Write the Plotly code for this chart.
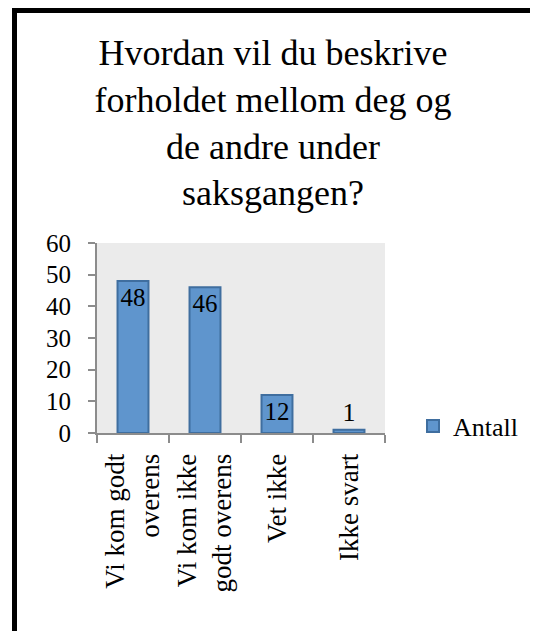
import plotly.graph_objects as go

# Data
categories = ["Vi kom godt<br>overens", "Vi kom ikke<br>godt overens", "Vet ikke", "Ikke svart"]
antall = [48, 46, 12, 1]
y_ticks = [0, 10, 20, 30, 40, 50, 60]

title_text = "Hvordan vil du beskrive<br>forholdet mellom deg og<br>de andre under<br>saksgangen?"
serif = "Liberation Serif, Times New Roman, serif"

# page body has an 8px margin, so the figure is 8px smaller than the window
W, H = 530, 623
L, R, T, B = 89, 377, 235, 425  # plot area in figure pixels


def px_x(p):
    return (p - L) / (R - L)


def px_y(p):
    return (B - p) / (B - T)


fig = go.Figure()
fig.add_trace(go.Bar(
    x=categories,
    y=antall,
    name="Antall",
    width=0.43,
    marker=dict(color="#5F95CD", line=dict(color="#3F6E9F", width=2)),
    text=antall,
    textposition="auto",
    insidetextanchor="end",
    textangle=0,
    textfont=dict(family=serif, size=26, color="black"),
    cliponaxis=False,
))

fig.update_layout(
    width=W, height=H,
    margin=dict(l=L, r=W - R, t=T, b=H - B, autoexpand=False),
    paper_bgcolor="white",
    plot_bgcolor="#EBEBEB",
    font=dict(family=serif, size=24, color="black"),
    title=dict(
        text=title_text,
        x=0.5, xanchor="center",
        y=1 - 57 / H, yanchor="top",
        font=dict(family=serif, size=36, color="black"),
    ),
    showlegend=True,
    legend=dict(
        x=px_x(405), xanchor="left",
        y=px_y(418), yanchor="middle",
        bgcolor="rgba(0,0,0,0)",
        font=dict(family=serif, size=26, color="black"),
    ),
    uniformtext=dict(mode=False),
)

fig.update_xaxes(
    showline=True, linecolor="#8C8C8C", linewidth=2,
    ticks="outside", tickson="boundaries", ticklen=8, tickcolor="#8C8C8C", tickwidth=2,
    tickangle=-90, ticklabelstandoff=8,
    tickfont=dict(family=serif, size=27),
    showgrid=False, zeroline=False,
)
fig.update_yaxes(
    range=[0, 60], tickvals=y_ticks,
    showline=True, linecolor="#8C8C8C", linewidth=2,
    ticks="outside", ticklen=7, tickcolor="#8C8C8C", tickwidth=2,
    ticklabelstandoff=12,
    tickfont=dict(family=serif, size=25),
    showgrid=False, zeroline=False,
)

# black frame (top and left edges visible)
fig.add_shape(type="rect", xref="paper", yref="paper",
              x0=px_x(4), x1=px_x(560), y0=px_y(0), y1=px_y(5),
              fillcolor="black", line=dict(width=0), layer="above")
fig.add_shape(type="rect", xref="paper", yref="paper",
              x0=px_x(4), x1=px_x(9), y0=px_y(0), y1=px_y(660),
              fillcolor="black", line=dict(width=0), layer="above")

fig.write_html("out.html")
